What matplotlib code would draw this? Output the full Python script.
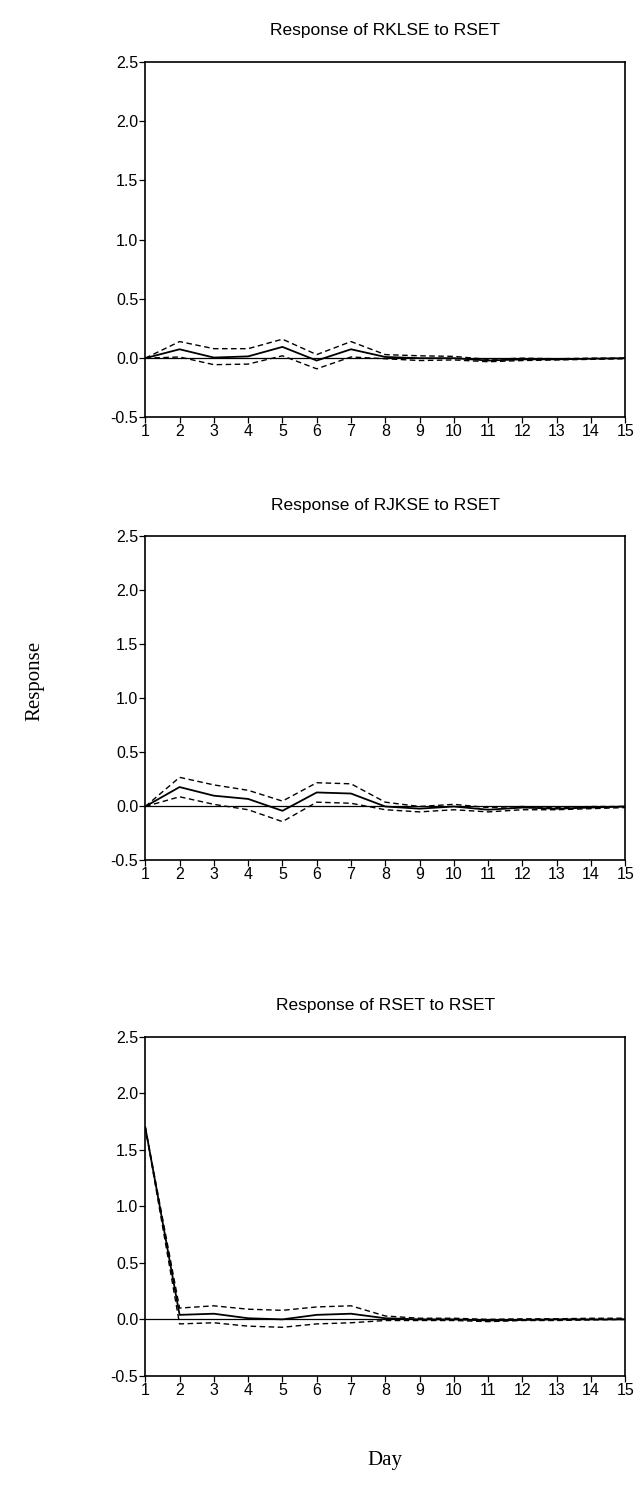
import matplotlib
matplotlib.use("Agg")
import matplotlib.pyplot as plt
import numpy as np

days = np.arange(1, 16)

# impulse responses to an RSET shock, with +/- 2 s.e. bands
rklse_resp = [0.0, 0.075, 0.005, 0.015, 0.095, -0.02, 0.075, 0.01, 0.0, 0.0, -0.02, -0.01, -0.01, -0.005, 0.0]
rklse_upper = [0.0, 0.14, 0.08, 0.08, 0.16, 0.03, 0.14, 0.03, 0.02, 0.015, -0.01, 0.0, -0.005, 0.0, 0.0]
rklse_lower = [0.0, 0.01, -0.055, -0.05, 0.02, -0.09, 0.01, -0.005, -0.02, -0.015, -0.03, -0.02, -0.015, -0.01, -0.005]

rjkse_resp = [0.0, 0.18, 0.10, 0.07, -0.04, 0.13, 0.12, 0.0, -0.02, 0.0, -0.03, -0.01, -0.02, -0.01, 0.0]
rjkse_upper = [0.0, 0.27, 0.20, 0.15, 0.05, 0.22, 0.21, 0.04, 0.0, 0.02, -0.01, 0.0, -0.01, 0.0, 0.0]
rjkse_lower = [0.0, 0.09, 0.02, -0.03, -0.14, 0.04, 0.03, -0.03, -0.05, -0.03, -0.05, -0.03, -0.03, -0.02, -0.01]

rset_resp = [1.70, 0.04, 0.05, 0.01, 0.0, 0.04, 0.05, 0.01, 0.0, 0.0, -0.01, -0.005, 0.0, 0.0, 0.0]
rset_upper = [1.70, 0.10, 0.12, 0.09, 0.08, 0.11, 0.12, 0.03, 0.01, 0.01, 0.0, 0.005, 0.005, 0.01, 0.01]
rset_lower = [1.70, -0.04, -0.03, -0.06, -0.07, -0.04, -0.03, -0.01, -0.01, -0.01, -0.02, -0.01, -0.01, -0.005, 0.0]

titles = ["Response of RKLSE to RSET", "Response of RJKSE to RSET", "Response of RSET to RSET"]
panels = [(rklse_resp, rklse_upper, rklse_lower),
          (rjkse_resp, rjkse_upper, rjkse_lower),
          (rset_resp, rset_upper, rset_lower)]
yticks = [-0.5, 0.0, 0.5, 1.0, 1.5, 2.0, 2.5]

plt.rcParams['font.family'] = ['Liberation Sans', 'DejaVu Sans']

fig = plt.figure(figsize=(6.4, 15.07), dpi=100)
boxes = [(0.227, 0.723, 0.75, 0.236),
         (0.227, 0.429, 0.75, 0.215),
         (0.227, 0.087, 0.75, 0.225)]

for box, title, (resp, upper, lower) in zip(boxes, titles, panels):
    ax = fig.add_axes(box)
    ax.axhline(0, color='black', lw=0.9)
    ax.plot(days, upper, color='black', lw=1.0, ls=(0, (4, 2.5)))
    ax.plot(days, lower, color='black', lw=1.0, ls=(0, (4, 2.5)))
    ax.plot(days, resp, color='black', lw=1.3)
    ax.set_xlim(1, 15)
    ax.set_ylim(-0.5, 2.5)
    ax.set_xticks(days)
    ax.set_yticks(yticks)
    ax.set_yticklabels([f"{v:.1f}" for v in yticks])
    ax.tick_params(direction='out', length=4, width=0.9, labelsize=11.5, pad=1)
    for s in ax.spines.values():
        s.set_linewidth(1.2)
    ax.set_title(title, fontsize=12.5, pad=19)

fig.text(0.055, 0.548, "Response", rotation=90, ha='center', va='center',
         family='Liberation Serif', fontsize=15)
fig.text(0.602, 0.031, "Day", ha='center', va='center',
         family='Liberation Serif', fontsize=15)

fig.savefig("out.png", dpi=100, facecolor='white')
